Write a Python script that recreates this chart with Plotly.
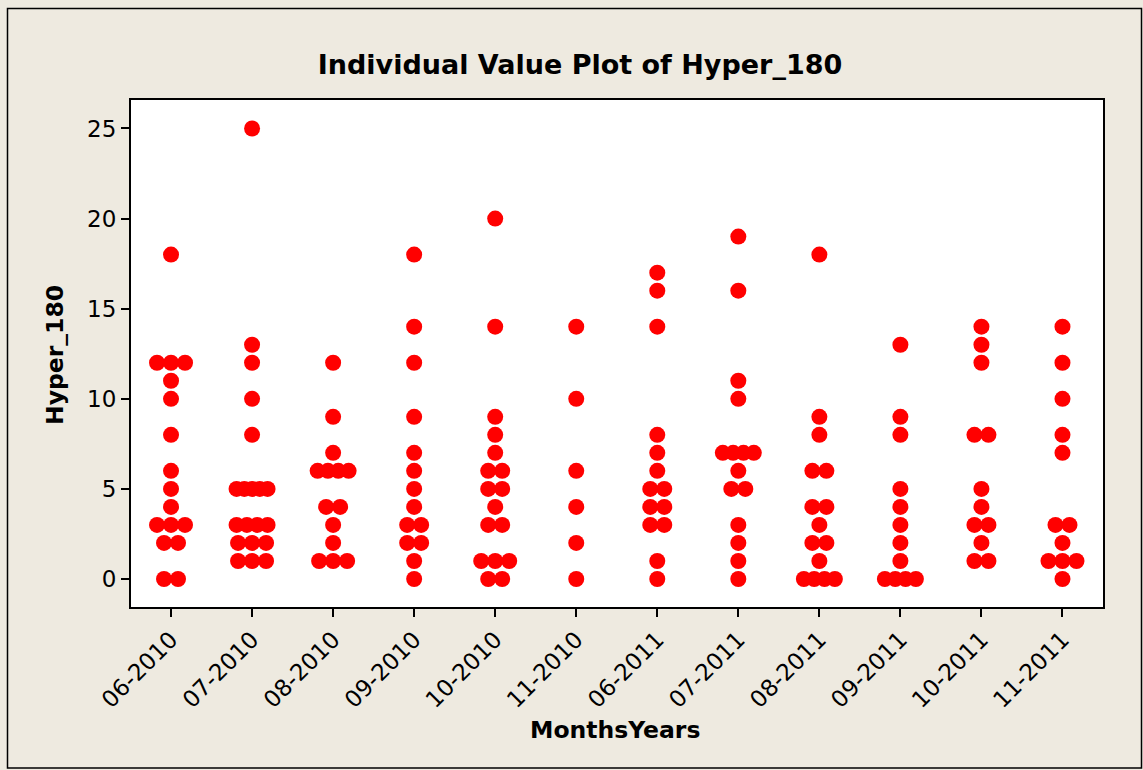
import numpy as np
import plotly.graph_objects as go

categories = ["06-2010", "07-2010", "08-2010", "09-2010", "10-2010", "11-2010",
              "06-2011", "07-2011", "08-2011", "09-2011", "10-2011", "11-2011"]

v_06_2010 = [18, 12, 12, 12, 11, 10, 8, 6, 5, 4, 3, 3, 3, 2, 2, 0, 0]
v_07_2010 = [25, 13, 12, 10, 8, 5, 5, 5, 5, 5, 3, 3, 3, 3, 2, 2, 2, 1, 1, 1]
v_08_2010 = [12, 9, 7, 6, 6, 6, 6, 4, 4, 3, 2, 1, 1, 1]
v_09_2010 = [18, 14, 12, 9, 7, 6, 5, 4, 3, 3, 2, 2, 1, 0]
v_10_2010 = [20, 14, 9, 8, 7, 6, 6, 5, 5, 4, 3, 3, 1, 1, 1, 0, 0]
v_11_2010 = [14, 10, 6, 4, 2, 0]
v_06_2011 = [17, 16, 14, 8, 7, 6, 5, 5, 4, 4, 3, 3, 1, 0]
v_07_2011 = [19, 16, 11, 10, 7, 7, 7, 7, 6, 5, 5, 3, 2, 1, 0]
v_08_2011 = [18, 9, 8, 6, 6, 4, 4, 3, 2, 2, 1, 0, 0, 0, 0]
v_09_2011 = [13, 9, 8, 5, 4, 3, 2, 1, 0, 0, 0, 0]
v_10_2011 = [14, 13, 12, 8, 8, 5, 4, 3, 3, 2, 1, 1]
v_11_2011 = [14, 12, 10, 8, 7, 3, 3, 2, 1, 1, 1, 0]

series = [v_06_2010, v_07_2010, v_08_2010, v_09_2010, v_10_2010, v_11_2010,
          v_06_2011, v_07_2011, v_08_2011, v_09_2011, v_10_2011, v_11_2011]

y_ticks = [0, 5, 10, 15, 20, 25]

# layout geometry (pixels)
W, H = 1143, 770
L, R, T, B = 131, 40, 100, 163
plot_w = W - L - R
plot_h = H - T - B
x_range = [-0.494, 11.5]
px_per_unit = plot_w / (x_range[1] - x_range[0])

xs, ys = [], []
for i, vals in enumerate(series):
    uniq = sorted(set(vals))
    for v in uniq:
        n = vals.count(v)
        spread = min((n - 1) * 14.0, 31.0)
        offs = np.linspace(-spread / 2, spread / 2, n) if n > 1 else [0.0]
        for o in offs:
            xs.append(i + o / px_per_unit)
            ys.append(v)

fig = go.Figure()
fig.add_trace(go.Scatter(
    x=xs, y=ys, mode="markers",
    marker=dict(color="#FF0000", size=16, line=dict(width=0)),
    showlegend=False, hoverinfo="y"))

font_family = "DejaVu Sans, Verdana, sans-serif"
bg = "#EEEAE0"

fig.update_layout(
    width=W, height=H,
    margin=dict(l=L, r=R, t=T, b=B),
    paper_bgcolor=bg, plot_bgcolor="white",
    font=dict(family=font_family, color="black", size=23),
    title=dict(text="<b>Individual Value Plot of Hyper_180</b>",
               x=580 / W, xanchor="center", y=1 - 65 / H, yanchor="middle",
               font=dict(size=27, family=font_family, color="black")),
    xaxis=dict(range=x_range, tickmode="array", tickvals=list(range(len(categories))),
               ticktext=categories, tickangle=-45, ticks="outside", ticklen=8,
               tickwidth=2, tickcolor="black", showgrid=False, zeroline=False,
               showline=True, linewidth=2, linecolor="black", mirror=True,
               tickfont=dict(size=23)),
    yaxis=dict(range=[-1.554, 26.58], tickmode="array", tickvals=y_ticks,
               ticks="outside", ticklen=8, tickwidth=2, tickcolor="black",
               showgrid=False, zeroline=False, showline=True, linewidth=2,
               linecolor="black", mirror=True, tickfont=dict(size=23)),
    annotations=[
        dict(text="<b>MonthsYears</b>", xref="paper", yref="paper",
             x=(615 - L) / plot_w, y=-(730 - (H - B)) / plot_h,
             xanchor="center", yanchor="middle", showarrow=False,
             font=dict(size=23.5, family=font_family)),
        dict(text="<b>Hyper_180</b>", xref="paper", yref="paper",
             x=(55 - L) / plot_w, y=(H - B - 355) / plot_h,
             xanchor="center", yanchor="middle", showarrow=False, textangle=-90,
             font=dict(size=23.5, family=font_family)),
    ],
    shapes=[dict(type="rect", xref="paper", yref="paper",
                 x0=(7.5 - L) / plot_w, x1=(1141.5 - L) / plot_w,
                 y0=(H - B - 768) / plot_h, y1=(H - B - 8.5) / plot_h,
                 line=dict(color="black", width=1.5), layer="below")],
)

fig.write_html("out.html", config={"displayModeBar": False},
               post_script="document.body.style.margin='0';document.body.style.overflow='hidden';")
